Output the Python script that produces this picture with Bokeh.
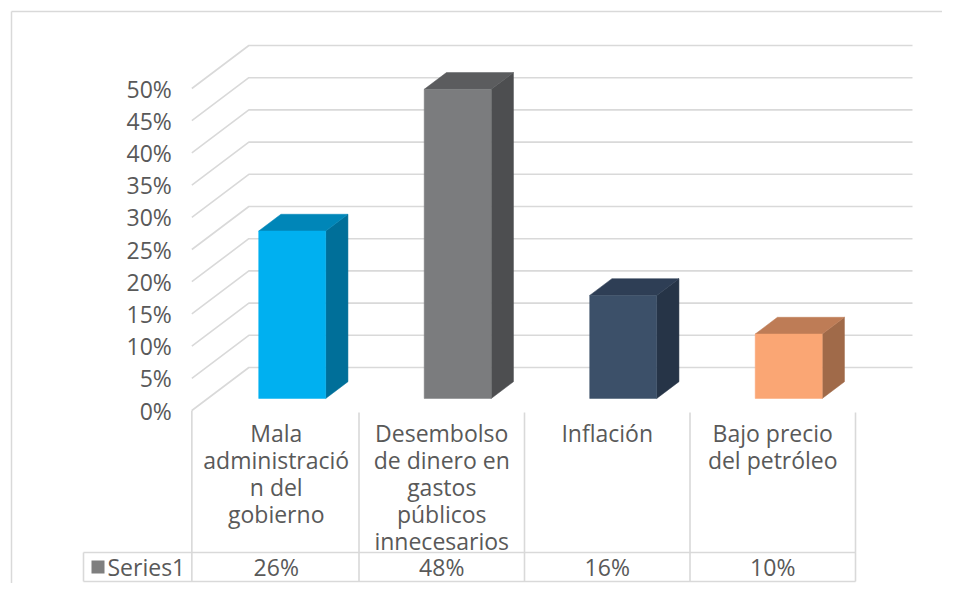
from bokeh.plotting import figure
from bokeh.models import Range1d
from bokeh.embed import file_html
from bokeh.resources import INLINE
from bokeh.core.properties import value

# ---------------- data ----------------
categories = ["Mala administración del gobierno",
              "Desembolso de dinero en gastos públicos innecesarios",
              "Inflación",
              "Bajo precio del petróleo"]
category_labels = ["Mala\nadministració\nn del\ngobierno",
                   "Desembolso\nde dinero en\ngastos\npúblicos\ninnecesarios",
                   "Inflación",
                   "Bajo precio\ndel petróleo"]
values = [26, 48, 16, 10]
value_labels = ["26%", "48%", "16%", "10%"]
y_ticks = [0, 5, 10, 15, 20, 25, 30, 35, 40, 45, 50]
y_tick_labels = ["0%", "5%", "10%", "15%", "20%", "25%", "30%", "35%", "40%", "45%", "50%"]
series_name = "Series1"

# ---------------- style ----------------
front_colors = ["#00B0F0", "#7B7C7E", "#3C5069", "#FAA674"]
top_colors = ["#0086B8", "#5B5C5E", "#2E3E55", "#BE7C56"]
side_colors = ["#006F99", "#4D4E50", "#263447", "#A06A49"]
grid_color = "#D9D9D9"
text_color = "#595959"
legend_color = "#7F7F7F"
FONT = "Open Sans"
FS = "23px"

W, H = 942, 583
PX_PER_PCT = 6.44
PX_PER_CAT = 165.5
X0_PX = 275.75   # canvas x of first category centre (front plane)
Y0_PX = 410.0    # canvas y (from top) of 0% on front plane

DX = 57 / PX_PER_CAT      # full depth offset in category units
DY = 43 / PX_PER_PCT      # full depth offset in percent units
D0, D1 = 0.28, 0.67       # bar front/back depth fractions
BAR_W = 0.405

def px_x(px):
    return (px - X0_PX) / PX_PER_CAT

def px_y(py):
    return (Y0_PX - py) / PX_PER_PCT

def proj(x, v, d):
    return x + d * DX, v + d * DY

p = figure(width=W, height=H, output_backend="svg", toolbar_location=None,
           x_range=Range1d(px_x(0), px_x(W)), y_range=Range1d(px_y(H), px_y(0)),
           x_axis_location=None, y_axis_location=None, min_border=0)
p.grid.visible = False
p.outline_line_color = None
p.background_fill_color = "white"
p.border_fill_color = "white"

n = len(categories)
xs_cat = list(range(n))
left_edge = -0.51
right_edge = n - 0.5

# outer chart border (top & left visible)
p.line([px_x(11), px_x(W)], [px_y(11), px_y(11)], line_color=grid_color, line_width=1.5)
p.line([px_x(11), px_x(11)], [px_y(11), px_y(H)], line_color=grid_color, line_width=1.5)

# gridlines: front diagonal + back wall horizontal
gx, gy = [], []
for t in y_ticks:
    a = proj(left_edge, t, 0)
    b = proj(left_edge, t, 1)
    c = proj(right_edge, t, 1)
    gx.append([a[0], b[0], c[0]])
    gy.append([a[1], b[1], c[1]])
p.multi_line(gx, gy, line_color=grid_color, line_width=1.6)

# data table
row_top = px_y(552)
row_bot = px_y(581)
tab_left = px_x(83)
tx, ty = [], []
tx.append([tab_left, right_edge]); ty.append([row_top, row_top])
tx.append([tab_left, right_edge]); ty.append([row_bot, row_bot])
tx.append([tab_left, tab_left]); ty.append([row_top, row_bot])
tx.append([left_edge, left_edge]); ty.append([0, row_bot])
for k in range(1, n + 1):
    xk = k - 0.5
    tx.append([xk, xk]); ty.append([px_y(412), row_bot])
p.multi_line(tx, ty, line_color=grid_color, line_width=1.6)

# 3D bars
fx, fy, topx, topy, sx, sy = [], [], [], [], [], []
for xc, v in zip(xs_cat, values):
    xl, xr = xc - BAR_W / 2, xc + BAR_W / 2
    pts = [proj(xl, 0, D0), proj(xr, 0, D0), proj(xr, v, D0), proj(xl, v, D0)]
    fx.append([q[0] for q in pts]); fy.append([q[1] for q in pts])
    pts = [proj(xl, v, D0), proj(xr, v, D0), proj(xr, v, D1), proj(xl, v, D1)]
    topx.append([q[0] for q in pts]); topy.append([q[1] for q in pts])
    pts = [proj(xr, 0, D0), proj(xr, 0, D1), proj(xr, v, D1), proj(xr, v, D0)]
    sx.append([q[0] for q in pts]); sy.append([q[1] for q in pts])
p.patches(sx, sy, fill_color=side_colors, line_color=side_colors, line_width=0.5)
p.patches(topx, topy, fill_color=top_colors, line_color=top_colors, line_width=0.5)
p.patches(fx, fy, fill_color=front_colors, line_color=front_colors, line_width=0.5)

# y tick labels
p.text([left_edge] * len(y_ticks), y_ticks, text=y_tick_labels, x_offset=-20,
       text_align="right", text_baseline="middle", text_font=value(FONT),
       text_font_size=FS, text_color=text_color)

# category labels
p.text(xs_cat, [0] * n, text=category_labels, y_offset=6,
       text_align="center", text_baseline="top", text_font=value(FONT),
       text_font_size=FS, text_color=text_color, text_line_height=0.85)

# value row
row_mid = (row_top + row_bot) / 2
p.text(xs_cat, [row_mid] * n, text=value_labels, text_align="center",
       text_baseline="middle", text_font=value(FONT), text_font_size=FS,
       text_color=text_color)
p.scatter([px_x(97.5)], [row_mid], marker="square", size=13,
          fill_color=legend_color, line_color=None)
p.text([px_x(107)], [row_mid], text=[series_name], text_align="left",
       text_baseline="middle", text_font=value(FONT), text_font_size=FS,
       text_color=text_color)

open("out.html", "w").write(file_html(p, INLINE))
